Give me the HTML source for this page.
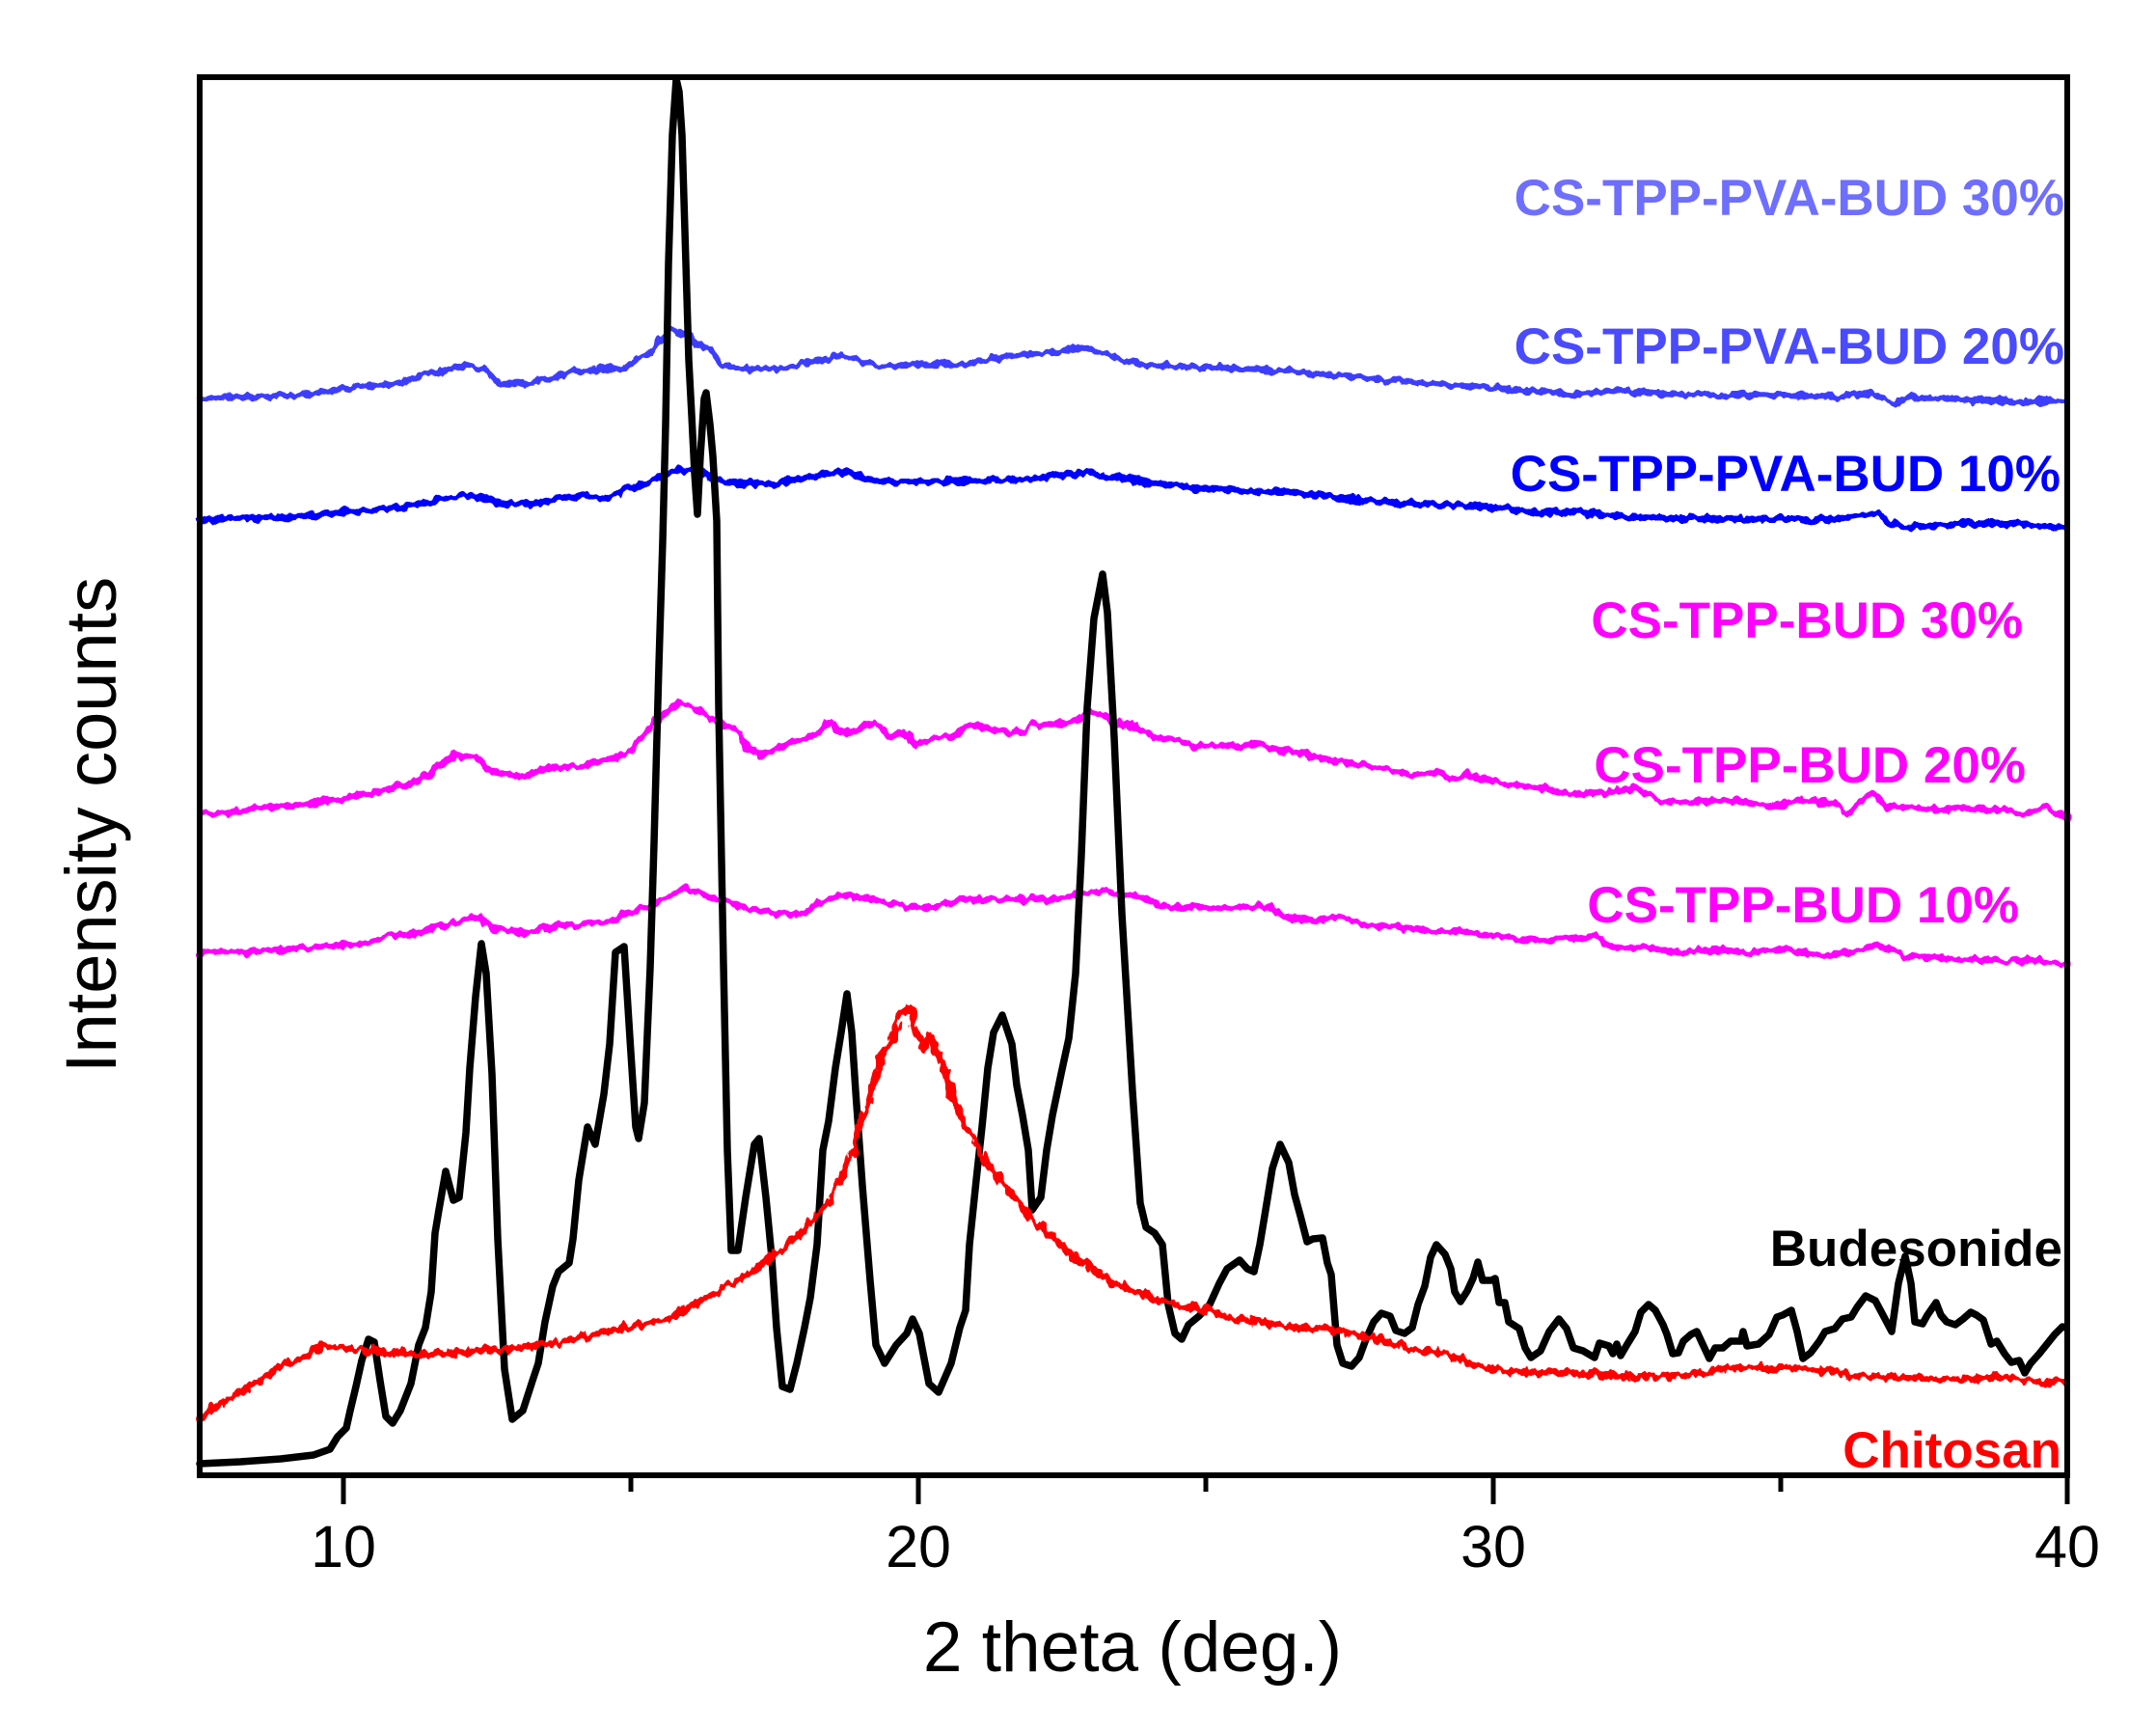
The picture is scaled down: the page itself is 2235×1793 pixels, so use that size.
<!DOCTYPE html>
<html>
<head>
<meta charset="utf-8">
<style>
html,body{margin:0;padding:0;background:#fff;}
svg{display:block;}
text{font-family:"Liberation Sans",Arial,sans-serif;}
</style>
</head>
<body>
<svg xmlns="http://www.w3.org/2000/svg" width="2235" height="1793" viewBox="0 0 2235 1793">
<defs>
<filter id="nz" filterUnits="userSpaceOnUse" x="0" y="0" width="2235" height="1793">
<feTurbulence type="fractalNoise" baseFrequency="0.12 0.06" numOctaves="2" seed="3" result="t"/>
<feDisplacementMap in="SourceGraphic" in2="t" scale="10" xChannelSelector="R" yChannelSelector="G"/>
</filter>
<filter id="nz2" filterUnits="userSpaceOnUse" x="0" y="0" width="2235" height="1793">
<feTurbulence type="fractalNoise" baseFrequency="0.14 0.07" numOctaves="2" seed="8" result="t"/>
<feDisplacementMap in="SourceGraphic" in2="t" scale="13" xChannelSelector="R" yChannelSelector="G"/>
</filter>
</defs>
<rect width="2235" height="1793" fill="#fff"/>

<g fill="none" stroke-linejoin="round" stroke-linecap="round">
<!-- CS-TPP-BUD 20% -->
<polyline filter="url(#nz)" stroke="#ff00ff" stroke-width="6.5" points="207,843 232,843 270,837 312,834 354,828 396,819 426,813 451,797 472,782 493,785 510,800 539,805 565,797 607,794 628,788 653,779 670,758 687,742 706,727 720,733 733,742 750,751 767,761 775,776 792,782 805,776 821,770 847,761 860,748 877,761 906,748 923,764 936,758 950,773 969,764 986,764 999,755 1012,751 1037,758 1062,758 1070,751 1091,751 1113,748 1129,739 1142,740 1155,751 1171,750 1197,764 1218,767 1239,773 1260,773 1281,773 1302,770 1323,779 1344,779 1365,785 1386,788 1407,794 1428,794 1449,800 1470,804 1491,800 1504,808 1520,802 1560,812 1600,817 1618,822 1654,822 1696,817 1725,831 1761,831 1796,829 1832,836 1868,829 1904,833 1914,843 1939,822 1957,836 1993,838 2029,838 2064,838 2100,843 2121,836 2142,848"/>
<!-- CS-TPP-BUD 10% -->
<polyline filter="url(#nz)" stroke="#ff00ff" stroke-width="6.5" points="207,987 249,987 291,984 333,981 375,978 409,969 438,966 468,957 497,950 510,963 544,966 586,960 628,957 649,947 670,941 691,929 708,920 733,929 754,935 775,941 805,947 830,947 851,935 867,929 881,929 902,932 932,938 965,941 999,932 1028,932 1062,932 1091,932 1121,926 1146,923 1180,929 1205,938 1239,941 1264,941 1289,941 1315,938 1331,950 1365,954 1390,950 1416,960 1449,960 1479,965 1520,966 1560,972 1600,975 1629,973 1654,970 1671,982 1707,982 1743,987 1779,984 1814,987 1850,984 1886,989 1921,987 1943,980 1957,982 1975,992 2011,994 2046,994 2082,996 2118,996 2142,999"/>
<!-- CS-TPP-PVA-BUD 20% -->
<polyline filter="url(#nz)" stroke="#3c3cff" stroke-width="6.5" points="207,412 246,412 303,410 341,405 380,400 418,397 441,388 456,385 485,378 502,383 517,398 533,398 552,397 571,392 590,385 609,385 628,382 648,382 659,373 674,367 682,353 693,342 705,345 716,350 724,357 736,362 747,378 770,382 812,382 840,376 869,368 890,374 912,379 950,378 998,378 1026,371 1060,368 1100,364 1126,361 1150,368 1183,378 1230,380 1283,382 1340,385 1425,393 1560,403 1598,405 1637,409 1675,405 1713,407 1751,409 1790,410 1828,409 1866,411 1904,411 1943,408 1962,418 1981,412 2019,413 2057,415 2096,417 2142,415"/>
<!-- CS-TPP-PVA-BUD 10% -->
<polyline filter="url(#nz)" stroke="#0000ff" stroke-width="7" points="207,538 265,537 322,535 360,530 399,527 437,522 468,515 487,513 506,517 525,523 552,522 590,515 609,513 628,517 648,507 667,502 686,493 705,487 724,488 739,498 770,500 798,502 869,489 912,499 998,499 1069,496 1126,490 1183,499 1240,506 1340,510 1425,520 1539,525 1560,527 1598,532 1637,530 1675,535 1713,537 1751,537 1790,538 1828,538 1866,538 1904,538 1947,532 1962,543 1981,547 2019,543 2057,543 2096,543 2142,547"/>
<!-- Budesonide -->
<polyline stroke="#000" stroke-width="7.5" points="207,1517 249,1515 291,1512 325,1508 342,1502 350,1489 359,1480 363,1462 369,1437 375,1410 382,1388 388,1391 394,1431 400,1468 407,1475 415,1462 426,1434 434,1394 441,1376 447,1339 451,1278 455,1254 462,1214 470,1244 476,1241 483,1174 487,1107 493,1033 499,978 504,1009 510,1113 516,1284 523,1419 531,1471 542,1462 552,1431 558,1413 565,1370 573,1333 579,1318 590,1309 594,1284 600,1223 609,1168 617,1186 626,1134 632,1082 638,987 647,981 653,1076 659,1168 662,1180 668,1143 674,1003 678,874 683,690 687,560 690,440 693,273 697,140 701,82 704,95 707,140 711,273 714,373 717,430 720,490 723,533 726,473 730,413 732,407 736,440 739,473 743,540 745,733 750,1000 754,1192 758,1296 765,1296 773,1241 782,1186 787,1180 794,1241 800,1303 805,1376 811,1437 819,1440 826,1413 834,1376 840,1345 847,1290 853,1192 859,1162 866,1107 872,1070 878,1030 883,1070 887,1131 894,1229 902,1327 908,1394 917,1413 929,1394 940,1382 946,1367 953,1382 963,1434 973,1443 986,1413 995,1376 1001,1358 1005,1290 1012,1223 1018,1168 1024,1107 1030,1070 1039,1052 1049,1082 1054,1125 1060,1156 1066,1192 1070,1254 1079,1241 1085,1192 1091,1156 1100,1113 1108,1076 1115,1009 1121,886 1127,733 1134,641 1143,595 1148,635 1155,764 1163,947 1174,1131 1182,1247 1188,1272 1197,1278 1205,1290 1211,1352 1218,1382 1225,1388 1232,1373 1243,1364 1254,1352 1264,1330 1272,1315 1285,1306 1293,1315 1300,1318 1306,1290 1312,1254 1319,1211 1327,1186 1336,1205 1342,1238 1348,1260 1355,1287 1361,1284 1371,1283 1376,1309 1380,1321 1386,1394 1392,1413 1401,1416 1409,1407 1416,1388 1424,1370 1432,1361 1441,1364 1447,1379 1456,1382 1464,1376 1470,1352 1477,1333 1483,1303 1489,1290 1498,1300 1504,1315 1508,1339 1514,1349 1521,1338 1527,1325 1532,1308 1537,1327 1546,1327 1550,1325 1554,1350 1560,1350 1564,1370 1575,1377 1581,1397 1587,1407 1597,1400 1606,1380 1616,1367 1624,1377 1631,1397 1641,1400 1653,1407 1658,1392 1668,1395 1672,1403 1676,1393 1680,1405 1687,1393 1695,1380 1701,1360 1709,1352 1716,1358 1724,1373 1728,1383 1734,1403 1740,1402 1745,1390 1753,1383 1759,1380 1765,1393 1772,1408 1778,1397 1786,1397 1794,1390 1805,1390 1807,1380 1811,1395 1823,1393 1834,1383 1842,1365 1848,1363 1857,1358 1863,1380 1869,1408 1877,1402 1886,1390 1892,1380 1902,1377 1910,1367 1919,1365 1925,1355 1934,1343 1944,1348 1952,1363 1961,1380 1968,1330 1975,1302 1981,1330 1985,1370 1993,1372 1998,1363 2007,1350 2012,1363 2018,1370 2027,1373 2035,1367 2043,1360 2049,1363 2056,1368 2064,1393 2070,1390 2078,1403 2085,1412 2093,1410 2099,1423 2105,1413 2114,1403 2122,1393 2130,1383 2138,1375 2142,1376"/>
<!-- Chitosan -->
<polyline filter="url(#nz2)" stroke="#ff0000" stroke-width="7" points="207,1471 220,1459 249,1443 270,1431 291,1416 312,1407 337,1394 367,1398 396,1401 438,1404 481,1401 523,1398 565,1394 607,1385 649,1376 691,1367 733,1345 775,1321 817,1290 847,1260 860,1244 873,1217 885,1192 892,1162 902,1137 913,1094 923,1082 932,1052 944,1045 950,1070 957,1088 963,1073 974,1094 982,1119 990,1143 1001,1168 1012,1186 1024,1205 1037,1223 1049,1238 1066,1260 1087,1278 1113,1303 1134,1315 1155,1330 1180,1339 1205,1349 1230,1355 1256,1358 1281,1367 1306,1370 1344,1376 1386,1379 1428,1388 1470,1400 1500,1403 1521,1413 1562,1422 1624,1423 1687,1427 1749,1425 1790,1418 1852,1418 1894,1420 1915,1425 1956,1427 2018,1430 2080,1427 2101,1432 2142,1432"/>
</g>

<!-- frame -->
<rect x="207" y="80" width="1936" height="1449" fill="none" stroke="#000" stroke-width="6"/>
<!-- ticks -->
<g stroke="#000" stroke-width="5">
<line x1="356" y1="1529" x2="356" y2="1559"/>
<line x1="952" y1="1529" x2="952" y2="1559"/>
<line x1="1548" y1="1529" x2="1548" y2="1559"/>
<line x1="2143" y1="1529" x2="2143" y2="1559"/>
<line x1="654" y1="1529" x2="654" y2="1546"/>
<line x1="1250" y1="1529" x2="1250" y2="1546"/>
<line x1="1846" y1="1529" x2="1846" y2="1546"/>
</g>
<g font-size="61" text-anchor="middle" fill="#000">
<text x="356" y="1624">10</text>
<text x="952" y="1624">20</text>
<text x="1548" y="1624">30</text>
<text x="2143" y="1624">40</text>
</g>
<text x="1174" y="1732" font-size="73" text-anchor="middle" fill="#000">2 theta (deg.)</text>
<text transform="translate(120,855) rotate(-90)" font-size="74" text-anchor="middle" fill="#000">Intensity counts</text>

<g font-size="53" font-weight="bold" text-anchor="end">
<text x="2140" y="223" fill="#6e6eff">CS-TPP-PVA-BUD 30%</text>
<text x="2140" y="377" fill="#4a4aff">CS-TPP-PVA-BUD 20%</text>
<text x="2136" y="509" fill="#0000ff">CS-TPP-PVA-BUD 10%</text>
<text x="2097" y="661" fill="#ff00ff">CS-TPP-BUD 30%</text>
<text x="2100" y="811" fill="#ff00ff">CS-TPP-BUD 20%</text>
<text x="2093" y="956" fill="#ff00ff">CS-TPP-BUD 10%</text>
<text x="2138" y="1312" fill="#000">Budesonide</text>
<text x="2137" y="1521" fill="#ff0000">Chitosan</text>
</g>
</svg>
</body>
</html>
